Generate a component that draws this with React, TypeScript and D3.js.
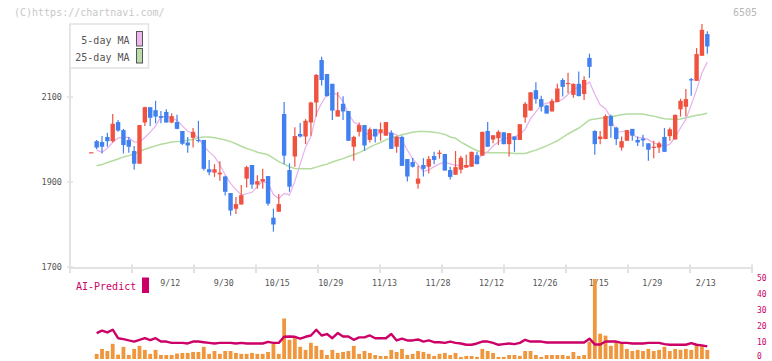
import React from 'react';
import * as d3 from 'd3';

// ---- data ----
const xLabels = ['9/12', '9/30', '10/15', '10/29', '11/13', '11/28', '12/12', '12/26', '1/15', '1/29', '2/13'];
const xLabelIndex = [15, 25, 35, 45, 55, 65, 75, 85, 95, 105, 115];
const yTicks = [1700, 1900, 2100];
const rightTicks = [0, 10, 20, 30, 40, 50];

const opens = [
  1970, 1996, 1994, 2006, 1996, 2041, 2022, 1999, 1973, 1943,
  2040, 2076, 2069, 2055, 2065, 2040, 2041, 2020, 1993, 2004,
  1999, 1999, 1930, 1922, 1918, 1913, 1874, 1837, 1847, 1908,
  1940, 1894, 1901, 1914, 1816, 1830, 2060, 1928, 1960, 2013,
  2007, 2040, 2087, 2187, 2154, 2131, 2054, 2084, 2067, 1983,
  2018, 2034, 1999, 2025, 2016, 2009, 2016, 1983, 2006, 1954,
  1947, 1896, 1940, 1936, 1961, 1967, 1966, 1928, 1917, 1929,
  1934, 1936, 1963, 1962, 2020, 2000, 2003, 2017, 1989, 2007,
  1999, 2052, 2068, 2116, 2095, 2080, 2066, 2088, 2140, 2131,
  2105, 2131, 2107, 2192, 2020, 2001, 2001, 2055, 2028, 1981,
  1997, 2025, 1999, 2002, 1991, 1981, 1981, 2006, 2008, 2000,
  2071, 2077, 2142, 2138, 2197, 2248,
];
const highs = [
  1970, 1999, 2008, 2016, 2060, 2046, 2025, 2006, 1985, 2034,
  2077, 2076, 2091, 2067, 2071, 2062, 2058, 2020, 2006, 2027,
  2044, 1999, 1952, 1942, 1949, 1915, 1874, 1865, 1893, 1938,
  1940, 1916, 1931, 1914, 1837, 1872, 2088, 1944, 2029, 2039,
  2048, 2089, 2154, 2195, 2154, 2131, 2112, 2102, 2067, 2009,
  2040, 2034, 2028, 2025, 2040, 2041, 2022, 2009, 2009, 1954,
  1957, 1938, 1956, 1961, 1971, 1975, 1966, 1936, 1973, 1962,
  1964, 1971, 1971, 2018, 2041, 2010, 2022, 2017, 2015, 2007,
  2036, 2088, 2111, 2135, 2103, 2082, 2096, 2131, 2144, 2157,
  2132, 2160, 2149, 2202, 2022, 2020, 2059, 2059, 2030, 2007,
  2022, 2025, 2007, 2011, 1991, 1997, 1995, 2027, 2028, 2059,
  2096, 2119, 2145, 2215, 2272, 2255,
];
const lows = [
  1970, 1977, 1967, 1983, 1993, 2018, 1967, 1969, 1929, 1943,
  2032, 2032, 2038, 2038, 2040, 2038, 2024, 1987, 1969, 1981,
  1993, 1927, 1916, 1912, 1903, 1868, 1821, 1825, 1847, 1887,
  1884, 1884, 1884, 1844, 1783, 1830, 1942, 1877, 1936, 2005,
  1989, 2009, 2054, 2127, 2101, 2046, 2054, 2046, 1997, 1950,
  2007, 1973, 1993, 1993, 1997, 2009, 1978, 1969, 1938, 1901,
  1934, 1884, 1913, 1920, 1942, 1955, 1927, 1906, 1917, 1920,
  1934, 1936, 1942, 1962, 1983, 1991, 1987, 1989, 1960, 1971,
  1999, 2040, 2068, 2084, 2066, 2061, 2066, 2088, 2101, 2109,
  2098, 2102, 2093, 2145, 1964, 1989, 2001, 2004, 1987, 1974,
  1997, 1997, 1985, 1983, 1950, 1956, 1968, 1971, 1997, 2000,
  2054, 2054, 2103, 2138, 2197, 2202,
];
const closes = [
  1970, 1981, 1983, 1996, 2037, 2021, 1987, 1983, 1943, 2034,
  2076, 2051, 2054, 2051, 2040, 2055, 2025, 1990, 1986, 2018,
  1997, 1931, 1923, 1930, 1922, 1877, 1833, 1848, 1869, 1935,
  1894, 1902, 1907, 1849, 1800, 1848, 1962, 1889, 2008, 2007,
  2044, 2087, 2152, 2140, 2102, 2068, 2069, 2066, 1997, 2006,
  2034, 1986, 2024, 2007, 2024, 2041, 1978, 2006, 1938, 1913,
  1936, 1908, 1931, 1954, 1952, 1969, 1927, 1912, 1935, 1957,
  1940, 1971, 1942, 2018, 1983, 2010, 2018, 1989, 2015, 1999,
  2036, 2084, 2111, 2095, 2077, 2061, 2091, 2120, 2124, 2133,
  2131, 2102, 2140, 2171, 1989, 2007, 2055, 2032, 2001, 1996,
  2022, 2009, 1993, 1998, 1976, 1983, 1991, 1971, 2024, 2058,
  2091, 2095, 2139, 2201, 2258, 2219,
];
const ma25 = [
  null, 1938, 1941, 1946, 1950, 1954, 1959, 1962, 1966, 1972,
  1977, 1981, 1985, 1989, 1991, 1994, 1995, 1996, 1998, 2000,
  2004, 2006, 2006, 2004, 2002, 1999, 1995, 1990, 1984, 1979,
  1975, 1970, 1967, 1964, 1956, 1948, 1942, 1936, 1932, 1931,
  1931, 1931, 1935, 1939, 1942, 1947, 1951, 1955, 1960, 1964,
  1969, 1975, 1982, 1988, 1993, 1999, 2004, 2007, 2011, 2014,
  2017, 2019, 2019, 2018, 2017, 2015, 2012, 2006, 2003, 1994,
  1987, 1980, 1974, 1970, 1969, 1969, 1969, 1969, 1968, 1967,
  1967, 1967, 1971, 1975, 1980, 1985, 1991, 1997, 2005, 2013,
  2020, 2027, 2036, 2046, 2048, 2050, 2052, 2054, 2056, 2058,
  2060, 2060, 2060, 2060, 2057, 2055, 2052, 2049, 2048, 2047,
  2048, 2051, 2054, 2057, 2059, 2062,
];
const ma5Lead = [null, 1975, 1970, 1979];
const volumes = [
  0, 3.2, 6.3, 5, 9.5, 2.7, 7.6, 2.5, 6.3, 8.2,
  5.7, 3.2, 5.7, 2.5, 2.5, 2.5, 3.4, 3.8, 3.8, 4.4,
  4.4, 7.6, 3.2, 5, 3.2, 5, 5, 3.8, 3.2, 3.2,
  3.8, 3.2, 3.2, 4.4, 9.5, 3.2, 25.3, 12, 13.3, 7.6,
  5.7, 10.1, 8.2, 5.7, 2.5, 5.7, 3.8, 4.4, 5, 8.2,
  3.2, 5, 3.8, 2.5, 1.9, 1.9, 5.7, 4.4, 6.3, 2.5,
  3.2, 5, 4.4, 3.2, 1.9, 3.2, 3.8, 2.5, 3.8, 1.3,
  1.9, 1.9, 1.3, 6.3, 5, 3.8, 1.3, 1.3, 2.5, 2.5,
  1.9, 5, 5, 2.5, 1.3, 2.5, 2.5, 2.5, 2.5, 1.9,
  4.4, 1.9, 2.5, 10.8, 50, 15.8, 14.6, 8.2, 10.8, 10.1,
  6.3, 5, 5.7, 5, 6.3, 5, 5.7, 7.6, 5, 6.3,
  5.7, 6.3, 5.7, 8.8, 8.2, 5.7,
];
const aiPredict = [
  null, 16.2, 17.7, 16.6, 18.3, 13, 12.4, 11.6, 10.9, 12,
  13, 11.8, 13, 10.9, 10.9, 10.1, 10.1, 10.1, 9.7, 10.9,
  10.9, 10.5, 10.1, 9.7, 10.1, 10.1, 10.1, 9.7, 10.1, 9.7,
  9.7, 9.7, 9.7, 10.7, 10.1, 10.1, 13.9, 14.1, 13.9, 12.7,
  13.9, 14.7, 18.3, 14.7, 15.6, 13, 16.2, 14.1, 14.1, 12,
  13.5, 13.5, 14.7, 13, 13, 13, 15.6, 11.6, 12.7, 11.6,
  11.6, 12.2, 10.9, 11.6, 10.5, 10.5, 10.1, 10.9, 10.1, 9.7,
  8.9, 8.9, 9.7, 10.9, 10.9, 10.1, 8.9, 9.3, 9.7, 9.3,
  10.1, 12, 10.9, 10.9, 10.9, 10.3, 10.3, 10.3, 10.3, 10.3,
  10.3, 10.3, 10.3, 12.7, 9.1, 9.1, 10.9, 10.9, 10.9, 10.1,
  10.1, 9.7, 9.7, 9.7, 10.1, 10.1, 10.1, 9.3, 8.9, 8.9,
  8.9, 8.9, 9.9, 8.9, 8.5, 7.9,
];

const UP = '#f05240';
const DOWN = '#4080f0';
const MAGENTA = '#cc0066';
const MONO = '"DejaVu Sans Mono", "Liberation Mono", monospace';

export default function App() {
  const W = 772;
  const H = 361;
  const n = closes.length;
  const x = d3.scaleLinear().domain([0, n - 1]).range([91.3, 707.3]);
  const y = d3.scaleLinear().domain([1700, 2300]).range([267, 12]);
  const yR = d3.scaleLinear().domain([0, 50]).range([359, 279]);

  const ma5: (number | null)[] = closes.map((_, i) => {
    if (i < 4) return ma5Lead[i];
    return d3.mean(closes.slice(i - 4, i + 1)) as number;
  });

  const lineP = d3
    .line<number | null>()
    .defined((d) => d != null)
    .x((_, i) => x(i))
    .y((d) => y(d as number));
  const lineAI = d3
    .line<number | null>()
    .defined((d) => d != null)
    .x((_, i) => x(i))
    .y((d) => yR(d as number));

  const axisTicks = d3.range(70, 753, 62);
  const bodyW = 4.4;

  return (
    <svg
      width={W}
      height={H}
      style={{ position: 'absolute', left: 0, top: 0, background: '#fff' }}
      fontFamily={MONO}
    >
      <rect x={0} y={0} width={W} height={H} fill="#fff" />
      {/* watermark and code */}
      <text x={14} y={12.5} fontSize={10} fill="#c8c8c8" dominantBaseline="central">
        (C)https://chartnavi.com/
      </text>
      <text x={757} y={12.5} fontSize={10} fill="#b8b8b8" textAnchor="end" dominantBaseline="central">
        6505
      </text>

      {/* axes */}
      <line x1={70} y1={24} x2={70} y2={268} stroke="#e2e2e2" strokeWidth={2} />
      <line x1={70} y1={268} x2={752} y2={268} stroke="#e2e2e2" strokeWidth={2} />
      {axisTicks.map((t) => (
        <line key={t} x1={t} y1={264.5} x2={t} y2={273} stroke="#e2e2e2" strokeWidth={2} />
      ))}
      {yTicks.map((t) => (
        <g key={t}>
          <line x1={67} y1={y(t)} x2={73} y2={y(t)} stroke="#e2e2e2" strokeWidth={1.5} />
          <text x={62} y={y(t)} fontSize={8.5} fill="#555" textAnchor="end" dominantBaseline="central">
            {t}
          </text>
        </g>
      ))}
      {xLabels.map((l, k) => (
        <text
          key={l}
          x={x(xLabelIndex[k]) - 1.5}
          y={283}
          fontSize={8.3}
          fill="#555"
          textAnchor="middle"
          dominantBaseline="central"
        >
          {l}
        </text>
      ))}

      {/* moving averages */}
      <path d={lineP(ma25) || ''} fill="none" stroke="#b4dca0" strokeWidth={1.5} />
      <path d={lineP(ma5) || ''} fill="none" stroke="#e6b0ea" strokeWidth={1.2} />

      {/* candles */}
      {closes.map((c, i) => {
        const o = opens[i];
        const col = c >= o ? UP : DOWN;
        const top = y(Math.max(o, c));
        const bot = y(Math.min(o, c));
        const cx = x(i);
        return (
          <g key={i}>
            <line x1={cx} x2={cx} y1={y(highs[i])} y2={y(lows[i])} stroke={col} strokeWidth={1.2} />
            <rect x={cx - bodyW / 2} y={top} width={bodyW} height={Math.max(1.2, bot - top)} fill={col} />
          </g>
        );
      })}

      {/* legend */}
      <rect x={70} y={24} width={78.5} height={44} fill="#fff" stroke="#e2e2e2" strokeWidth={1.5} />
      <text x={129.5} y={40.5} fontSize={10} fill="#555" textAnchor="end" dominantBaseline="central">
        5-day MA
      </text>
      <rect x={136.5} y={31.5} width={6} height={14.5} fill="#ecb8ec" stroke="#555" strokeWidth={1} />
      <text x={129.5} y={57} fontSize={10} fill="#555" textAnchor="end" dominantBaseline="central">
        25-day MA
      </text>
      <rect x={136.5} y={48.5} width={6} height={14.5} fill="#b8dcaa" stroke="#555" strokeWidth={1} />

      {/* AI-Predict panel */}
      <text x={76} y={286} fontSize={10} fill={MAGENTA} dominantBaseline="central">
        AI-Predict
      </text>
      <rect x={142} y={277.5} width={7} height={15.5} fill={MAGENTA} />
      {rightTicks.map((t) => (
        <text key={t} x={757} y={Math.min(yR(t) + 2, 359)} fontSize={8} fill={MAGENTA}>
          {t}
        </text>
      ))}
      {volumes.map((v, i) =>
        v > 0 ? (
          <rect key={i} x={x(i) - 1.9} y={yR(v)} width={3.8} height={yR(0) - yR(v)} fill="#f0963c" />
        ) : null
      )}
      <path d={lineAI(aiPredict) || ''} fill="none" stroke={MAGENTA} strokeWidth={2.4} strokeLinejoin="round" />
    </svg>
  );
}
